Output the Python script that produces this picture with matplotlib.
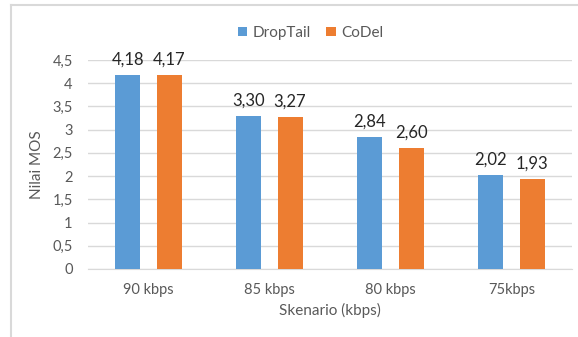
import matplotlib.pyplot as plt
from matplotlib.lines import Line2D

# Skenario bandwidth dan nilai MOS per antrian
skenario = ['90 kbps', '85 kbps', '80 kbps', '75kbps']
droptail = [4.18, 3.30, 2.84, 2.02]
codel = [4.17, 3.27, 2.60, 1.93]
y_ticks = [0, 0.5, 1, 1.5, 2, 2.5, 3, 3.5, 4, 4.5]

blue = '#5B9BD5'
orange = '#ED7D31'
grey = '#595959'

plt.rcParams['font.family'] = ['Lato', 'DejaVu Sans']

fig = plt.figure(figsize=(5.78, 3.37), dpi=100)
ax = fig.add_axes([88 / 578, 68 / 337, 484 / 578, 209 / 337])

x = list(range(len(skenario)))
w = 0.207
off = 0.17
b1 = ax.bar([i - off for i in x], droptail, w, color=blue, label='DropTail', zorder=3)
b2 = ax.bar([i + off for i in x], codel, w, color=orange, label='CoDel', zorder=3)

# Label nilai di atas batang, pakai koma desimal
for bars, vals in ((b1, droptail), (b2, codel)):
    for bar, v in zip(bars, vals):
        ax.text(bar.get_x() + bar.get_width() / 2, v + 0.16, f'{v:.2f}'.replace('.', ','),
                ha='center', va='bottom', fontsize=12, color='#262626')

ax.set_xlim(-0.5, 3.5)
ax.set_ylim(0, 4.5)
ax.set_yticks(y_ticks)
ax.set_yticklabels([f'{t:g}'.replace('.', ',') for t in y_ticks])
ax.set_xticks(x)
ax.set_xticklabels(skenario)
ax.tick_params(axis='both', length=0, labelsize=10.5, colors=grey)
ax.tick_params(axis='x', pad=10)
ax.tick_params(axis='y', pad=11)
ax.grid(axis='y', color='#D9D9D9', linewidth=1, zorder=0)
for s in ('top', 'right', 'left'):
    ax.spines[s].set_visible(False)
ax.spines['bottom'].set_color('#D9D9D9')

ax.set_xlabel('Skenario (kbps)', fontsize=11, color=grey, labelpad=4)
ax.set_ylabel('Nilai MOS', fontsize=11, color=grey, labelpad=6)

ax.legend(loc='lower center', bbox_to_anchor=(0.5 - 0.04, 1.03), ncol=2, frameon=False,
          fontsize=11, labelcolor=grey, handlelength=0.6, handleheight=0.6,
          handletextpad=0.35, columnspacing=1.0)

# Bingkai tipis kiri dan atas
fig.add_artist(Line2D([11 / 578, 11 / 578], [0, 332 / 337], color='#D9D9D9', lw=1.5))
fig.add_artist(Line2D([11 / 578, 1], [332 / 337, 332 / 337], color='#D9D9D9', lw=1.5))

fig.savefig('out.png', dpi=100)
